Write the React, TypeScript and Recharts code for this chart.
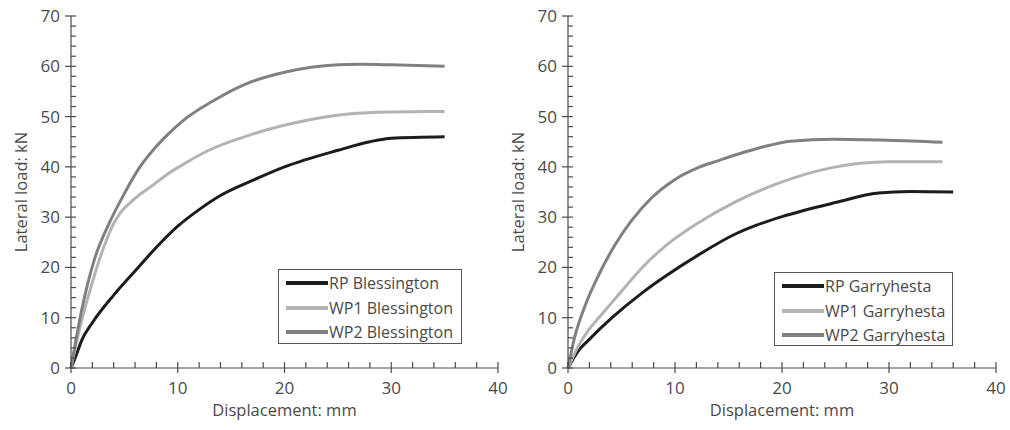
import { Legend, Line, LineChart, XAxis, YAxis } from "recharts";

type Pt = { x: number; y: number };

// Blessington (left panel)
const rpBlessington: Pt[] = [
  { x: 0, y: 0 }, { x: 0.5, y: 2.6 }, { x: 1, y: 5.5 }, { x: 2, y: 9 }, { x: 4, y: 14.5 },
  { x: 6, y: 19.3 }, { x: 8, y: 24 }, { x: 10, y: 28.2 }, { x: 12, y: 31.5 }, { x: 14, y: 34.3 },
  { x: 17, y: 37.3 }, { x: 20, y: 40 }, { x: 25, y: 43.3 }, { x: 28, y: 45 }, { x: 30, y: 45.7 },
  { x: 35, y: 46 },
];
const wp1Blessington: Pt[] = [
  { x: 0, y: 0 }, { x: 0.5, y: 5 }, { x: 1, y: 9.5 }, { x: 2, y: 17 }, { x: 2.65, y: 21.5 },
  { x: 3.3, y: 25.3 }, { x: 3.9, y: 28.3 }, { x: 4.6, y: 30.8 }, { x: 5.45, y: 32.7 }, { x: 6.5, y: 34.6 },
  { x: 7.63, y: 36.3 }, { x: 9, y: 38.5 }, { x: 10.6, y: 40.6 }, { x: 12.8, y: 43.2 }, { x: 17, y: 46.5 },
  { x: 22, y: 49.2 }, { x: 26, y: 50.5 }, { x: 30, y: 50.9 }, { x: 35, y: 51 },
];
const wp2Blessington: Pt[] = [
  { x: 0, y: 0 }, { x: 0.5, y: 6 }, { x: 1, y: 11.5 }, { x: 2.18, y: 21.5 }, { x: 3.58, y: 28.8 },
  { x: 5, y: 34.7 }, { x: 6.3, y: 39.5 }, { x: 7.8, y: 43.6 }, { x: 9.1, y: 46.5 }, { x: 10.5, y: 49.2 },
  { x: 13.3, y: 53.1 }, { x: 16.4, y: 56.5 }, { x: 20, y: 58.8 }, { x: 25, y: 60.3 }, { x: 27, y: 60.4 },
  { x: 30, y: 60.3 }, { x: 35, y: 60 },
];

// Garryhesta (right panel)
const rpGarryhesta: Pt[] = [
  { x: 0, y: 0 }, { x: 1, y: 3.5 }, { x: 1.9, y: 5.5 }, { x: 4.06, y: 9.9 }, { x: 6.9, y: 14.9 },
  { x: 9.06, y: 18.2 }, { x: 12.2, y: 22.5 }, { x: 15.6, y: 26.6 }, { x: 17.5, y: 28.3 }, { x: 20, y: 30.1 },
  { x: 25, y: 32.9 }, { x: 29, y: 34.8 }, { x: 32, y: 35.1 }, { x: 36, y: 35 },
];
const wp1Garryhesta: Pt[] = [
  { x: 0, y: 0 }, { x: 1, y: 4.5 }, { x: 2, y: 7.8 }, { x: 2.8, y: 9.8 }, { x: 4.7, y: 14.5 },
  { x: 6.9, y: 19.9 }, { x: 9.06, y: 24.2 }, { x: 12.2, y: 28.9 }, { x: 15.6, y: 33 }, { x: 19.5, y: 36.6 },
  { x: 22.3, y: 38.6 }, { x: 24.8, y: 39.9 }, { x: 27.3, y: 40.7 }, { x: 30, y: 41 }, { x: 35, y: 41 },
];
const wp2Garryhesta: Pt[] = [
  { x: 0, y: 0 }, { x: 0.63, y: 6.2 }, { x: 1.56, y: 12.2 }, { x: 2.8, y: 18.2 }, { x: 4.4, y: 24.5 },
  { x: 5.9, y: 29.2 }, { x: 7.8, y: 33.8 }, { x: 10, y: 37.5 }, { x: 12, y: 39.7 }, { x: 14, y: 41.2 },
  { x: 16, y: 42.6 }, { x: 18.3, y: 44 }, { x: 20.8, y: 45.1 }, { x: 24.8, y: 45.5 }, { x: 30, y: 45.3 },
  { x: 35, y: 44.9 },
];

const X_TICKS = [0, 2, 4, 6, 8, 10, 12, 14, 16, 18, 20, 22, 24, 26, 28, 30, 32, 34, 36, 38, 40];
const Y_TICKS = [
  0, 2, 4, 6, 8, 10, 12, 14, 16, 18, 20, 22, 24, 26, 28, 30, 32, 34, 36,
  38, 40, 42, 44, 46, 48, 50, 52, 54, 56, 58, 60, 62, 64, 66, 68, 70,
];

const INK = "#4a4a4a";
const AXIS = "#4a4a4a";
const FONT = "'Open Sans', sans-serif";
const COLORS = ["#1c1c1c", "#b3b3b3", "#808080"];

function XTick(props: any) {
  const { x, y, payload } = props;
  const major = payload.value % 10 === 0;
  return (
    <g>
      <line x1={x} x2={x} y1={y - 6} y2={major ? y + 5 : y} stroke={AXIS} strokeWidth={1.2} />
      {major && (
        <text x={x} y={y + 26} textAnchor="middle" fill={INK} fontSize={17} fontFamily={FONT}>
          {payload.value}
        </text>
      )}
    </g>
  );
}

function YTick(props: any) {
  const { x, y, payload } = props;
  const major = payload.value % 10 === 0;
  return (
    <g>
      <line x1={major ? x - 6 : x} x2={x + 5} y1={y} y2={y} stroke={AXIS} strokeWidth={1.2} />
      {major && (
        <text x={x - 11} y={y + 6} textAnchor="end" fill={INK} fontSize={17} fontFamily={FONT}>
          {payload.value}
        </text>
      )}
    </g>
  );
}

function LegendBox({ payload, width, height }: any) {
  return (
    <div
      style={{
        width,
        height,
        boxSizing: "border-box",
        border: "1px solid #555",
        background: "#fff",
        padding: "1px 0 0 7px",
        fontFamily: FONT,
        fontSize: 16,
        color: INK,
      }}
    >
      {(payload || []).map((p: any) => (
        <div key={p.value} style={{ display: "flex", alignItems: "center", height: 24.5 }}>
          <span style={{ display: "inline-block", width: 42, height: 4, background: p.color }} />
          <span style={{ marginLeft: 1, lineHeight: "20px" }}>{p.value}</span>
        </div>
      ))}
    </div>
  );
}

type PanelProps = {
  series: Pt[][];
  names: string[];
  width: number;
  left: number;
  right: number;
  legend: { left: number; top: number; width: number; height: number };
};

function Panel({ series, names, width, left, right, legend }: PanelProps) {
  return (
    <LineChart width={width} height={430} margin={{ top: 16, right, bottom: 0, left: 0 }}>
      <XAxis
        type="number"
        dataKey="x"
        domain={[0, 40]}
        ticks={X_TICKS}
        interval={0}
        tickSize={0}
        tickMargin={0}
        tickLine={false}
        tick={(p: any) => <XTick {...p} />}
        stroke={AXIS}
        strokeWidth={1.2}
        height={62}
        label={(p: any) => {
          const vb = p.viewBox;
          return (
            <text x={vb.x + vb.width / 2} y={vb.y + 48} textAnchor="middle" fill={INK} fontSize={16.5} fontFamily={FONT}>
              Displacement: mm
            </text>
          );
        }}
      />
      <YAxis
        type="number"
        dataKey="y"
        domain={[0, 70]}
        ticks={Y_TICKS}
        interval={0}
        tickSize={0}
        tickMargin={0}
        tickLine={false}
        tick={(p: any) => <YTick {...p} />}
        stroke={AXIS}
        strokeWidth={1.2}
        width={left}
        label={(p: any) => {
          const vb = p.viewBox;
          const cx = vb.x + vb.width - 44;
          const cy = vb.y + vb.height / 2;
          return (
            <text x={cx} y={cy} transform={`rotate(-90, ${cx}, ${cy})`} textAnchor="middle" fill={INK} fontSize={16.5} fontFamily={FONT}>
              Lateral load: kN
            </text>
          );
        }}
      />
      {series.map((data, i) => (
        <Line
          key={names[i]}
          data={data}
          dataKey="y"
          name={names[i]}
          type="monotone"
          stroke={COLORS[i]}
          strokeWidth={3}
          dot={false}
          activeDot={false}
          isAnimationActive={false}
        />
      ))}
      <Legend
        layout="vertical"
        align="center"
        verticalAlign="middle"
        wrapperStyle={{ left: legend.left, top: legend.top, right: "auto", bottom: "auto", width: legend.width, height: legend.height }}
        content={(p: any) => <LegendBox payload={p.payload} width={legend.width} height={legend.height} />}
      />
    </LineChart>
  );
}

export default function App() {
  return (
    <div style={{ position: "absolute", left: 0, top: 0, width: 1010, height: 430, background: "#fff" }}>
      <div style={{ position: "absolute", left: 0, top: 0 }}>
        <Panel
          series={[rpBlessington, wp1Blessington, wp2Blessington]}
          names={["RP Blessington", "WP1 Blessington", "WP2 Blessington"]}
          width={515}
          left={71}
          right={17}
          legend={{ left: 278, top: 269, width: 184, height: 75 }}
        />
      </div>
      <div style={{ position: "absolute", left: 500, top: 0 }}>
        <Panel
          series={[rpGarryhesta, wp1Garryhesta, wp2Garryhesta]}
          names={["RP Garryhesta", "WP1 Garryhesta", "WP2 Garryhesta"]}
          width={510}
          left={68}
          right={14}
          legend={{ left: 274, top: 272, width: 179, height: 74 }}
        />
      </div>
    </div>
  );
}
